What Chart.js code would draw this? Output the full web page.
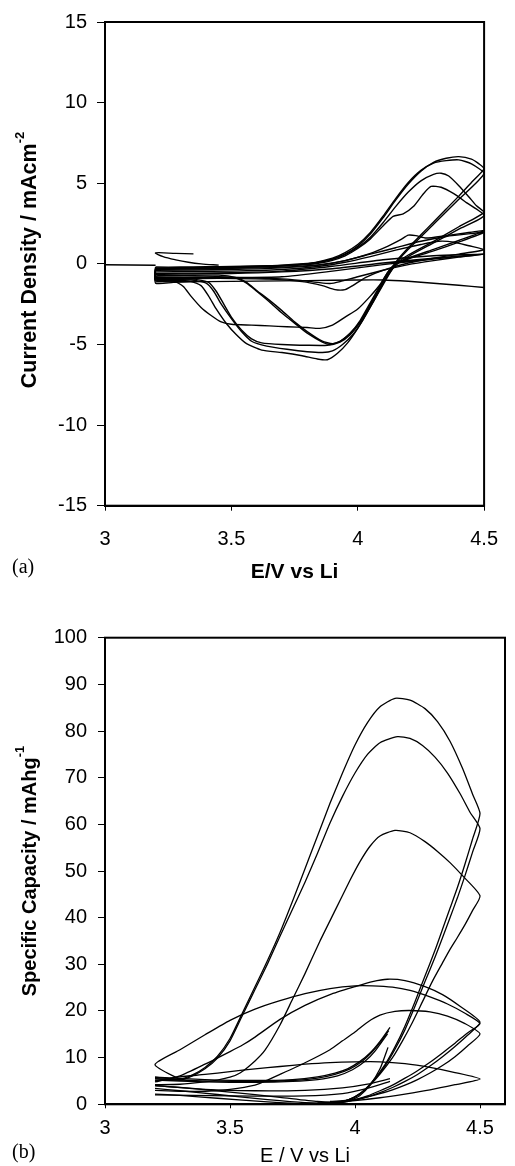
<!DOCTYPE html>
<html><head><meta charset="utf-8">
<script src="https://cdn.jsdelivr.net/npm/chart.js@4.4.1/dist/chart.umd.min.js"></script>
<style>
html,body{margin:0;padding:0;background:#fff;width:515px;height:1166px;overflow:hidden}
.wrap{position:absolute;left:0;width:515px}
#wa{top:0;height:580px}
#wb{top:580px;height:586px}
.lab{position:absolute;font-family:'Liberation Serif','Times New Roman',serif;font-size:20px;line-height:20px;color:#000;white-space:nowrap}
</style></head><body>
<div class="wrap" id="wa"><canvas id="ca" width="515" height="580" style="width:515px;height:580px"></canvas></div>
<div class="wrap" id="wb"><canvas id="cb" width="515" height="586" style="width:515px;height:586px"></canvas></div>
<div class="lab" style="left:12px;top:556px">(a)</div>
<div class="lab" style="left:12px;top:1141px">(b)</div>
<script>
// ---------- Panel (a): cyclic voltammograms, E / V vs Li  vs  current density / mA cm^-2 ----------
const cvTicksX = [3, 3.5, 4, 4.5];
const cvTicksY = [-15, -10, -5, 0, 5, 10, 15];

const cvStartLine = [[3.0,-0.05],[3.2,-0.08]];
const cvStartHook = [[3.35,0.62],[3.28,0.65],[3.2,0.68],[3.23,0.45],[3.28,0.25],[3.33,0.1],[3.38,0.0],[3.45,-0.08]];
const cvFirstScan = [[3.2,-1.12],[3.4,-1.1],[3.6,-1.07],[3.8,-1.04],[4.0,-1.0],[4.1,-1.0],[4.2,-1.08],[4.3,-1.2],[4.4,-1.33],[4.5,-1.47]];

const cyc1Anodic = [[3.2,-0.2],[3.3,-0.2],[3.4,-0.18],[3.5,-0.16],[3.6,-0.13],[3.7,-0.08],[3.8,0.02],[3.85,0.12],[3.9,0.3],[3.95,0.6],[4.0,1.1],[4.05,1.85],[4.1,2.85],[4.15,3.95],[4.2,4.95],[4.25,5.75],[4.3,6.3],[4.35,6.55],[4.4,6.65],[4.45,6.5],[4.48,6.2],[4.5,5.9]];
const cyc1Cathodic = [[4.5,5.9],[4.45,5.05],[4.4,4.2],[4.35,3.4],[4.3,2.6],[4.25,1.8],[4.2,1.0],[4.16,0.3],[4.13,-0.4],[4.1,-1.2],[4.07,-2.1],[4.03,-3.2],[4.0,-4.0],[3.96,-4.9],[3.92,-5.55],[3.88,-5.95],[3.84,-5.9],[3.78,-5.7],[3.7,-5.5],[3.62,-5.35],[3.56,-4.95],[3.52,-4.4],[3.48,-3.7],[3.44,-2.8],[3.41,-2.0],[3.38,-1.35],[3.34,-1.1],[3.27,-1.15],[3.2,-1.2]];

const cyc2Anodic = [[3.2,-0.25],[3.4,-0.22],[3.6,-0.15],[3.7,-0.1],[3.8,0.0],[3.85,0.15],[3.9,0.35],[3.95,0.7],[4.0,1.2],[4.05,1.95],[4.1,2.95],[4.15,4.05],[4.2,5.05],[4.25,5.8],[4.3,6.25],[4.35,6.4],[4.4,6.45],[4.45,6.2],[4.5,5.6]];
const cyc2Cathodic = [[4.5,5.6],[4.4,4.0],[4.3,2.45],[4.2,0.9],[4.16,0.2],[4.13,-0.5],[4.1,-1.3],[4.06,-2.4],[4.02,-3.5],[3.98,-4.4],[3.94,-5.0],[3.9,-5.4],[3.86,-5.5],[3.8,-5.45],[3.72,-5.3],[3.64,-5.1],[3.58,-4.8],[3.54,-4.2],[3.5,-3.4],[3.46,-2.5],[3.43,-1.7],[3.4,-1.2],[3.34,-1.0],[3.2,-1.05]];

const cyc3Anodic = [[3.2,-0.3],[3.4,-0.25],[3.6,-0.18],[3.7,-0.12],[3.8,-0.02],[3.85,0.1],[3.9,0.28],[3.95,0.58],[4.0,1.02],[4.05,1.65],[4.1,2.55],[4.15,3.55],[4.2,4.45],[4.25,5.15],[4.3,5.55],[4.33,5.62],[4.36,5.45],[4.4,4.85],[4.44,4.15],[4.47,3.6],[4.5,3.2]];
const cyc3Cathodic = [[4.5,3.2],[4.4,2.3],[4.3,1.4],[4.2,0.55],[4.15,0.0],[4.12,-0.6],[4.09,-1.4],[4.05,-2.5],[4.01,-3.6],[3.97,-4.4],[3.93,-4.85],[3.88,-5.05],[3.8,-5.05],[3.7,-5.0],[3.62,-4.9],[3.58,-4.65],[3.54,-4.1],[3.5,-3.3],[3.47,-2.5],[3.44,-1.7],[3.41,-1.15],[3.35,-0.95],[3.2,-0.95]];

const cyc4Anodic = [[3.2,-0.35],[3.4,-0.3],[3.6,-0.2],[3.7,-0.14],[3.8,-0.05],[3.85,0.05],[3.9,0.22],[3.95,0.5],[4.0,0.95],[4.05,1.55],[4.1,2.35],[4.14,2.95],[4.18,3.1],[4.22,3.55],[4.26,4.35],[4.29,4.8],[4.33,4.75],[4.38,4.35],[4.43,3.8],[4.5,3.0]];
const cyc4Cathodic = [[4.5,3.0],[4.4,2.15],[4.3,1.3],[4.2,0.45],[4.15,-0.1],[4.12,-0.7],[4.09,-1.5],[4.05,-2.6],[4.01,-3.6],[3.97,-4.3],[3.93,-4.8],[3.89,-5.0],[3.86,-4.85],[3.8,-4.3],[3.76,-3.8],[3.7,-3.05],[3.65,-2.35],[3.6,-1.7],[3.56,-1.2],[3.52,-0.9],[3.45,-0.8],[3.2,-0.8]];

const cyc5Anodic = [[3.2,-0.4],[3.5,-0.35],[3.7,-0.25],[3.85,-0.08],[3.95,0.2],[4.05,0.65],[4.12,1.1],[4.17,1.5],[4.2,1.78],[4.23,1.75],[4.27,1.6],[4.35,1.75],[4.42,1.9],[4.5,2.05]];
const cyc5Cathodic = [[4.5,2.05],[4.4,1.45],[4.3,0.9],[4.2,0.35],[4.15,0.0],[4.12,-0.5],[4.09,-1.3],[4.05,-2.4],[4.01,-3.5],[3.97,-4.3],[3.93,-4.8],[3.9,-4.95],[3.86,-4.8],[3.8,-4.2],[3.75,-3.6],[3.7,-2.9],[3.65,-2.25],[3.6,-1.65],[3.56,-1.15],[3.52,-0.85],[3.45,-0.7],[3.2,-0.7]];

const cyc6Anodic = [[3.2,-0.3],[3.5,-0.28],[3.7,-0.2],[3.85,-0.05],[3.95,0.2],[4.05,0.6],[4.15,1.0],[4.25,1.4],[4.35,1.7],[4.45,1.88],[4.5,1.95]];
const cyc6Cathodic = [[4.5,1.95],[4.4,1.35],[4.3,0.8],[4.2,0.3],[4.15,0.0],[4.12,-0.5],[4.09,-1.25],[4.05,-2.0],[4.0,-2.8],[3.95,-3.3],[3.9,-3.8],[3.85,-4.0],[3.8,-3.95],[3.72,-3.9],[3.65,-3.85],[3.58,-3.8],[3.5,-3.75],[3.46,-3.6],[3.42,-3.2],[3.38,-2.7],[3.34,-2.0],[3.31,-1.4],[3.27,-1.05],[3.2,-1.0]];

const cyc7Anodic = [[3.2,-0.5],[3.5,-0.45],[3.7,-0.35],[3.85,-0.15],[3.95,0.1],[4.05,0.45],[4.15,0.85],[4.25,1.2],[4.32,1.4],[4.38,1.35],[4.44,1.12],[4.5,0.88]];
const cyc7Cathodic = [[4.5,0.88],[4.4,0.6],[4.3,0.35],[4.2,0.05],[4.1,-0.4],[4.03,-0.85],[3.98,-1.35],[3.95,-1.6],[3.91,-1.6],[3.86,-1.35],[3.78,-1.1],[3.65,-0.95],[3.45,-0.9],[3.2,-0.9]];

const cyc8Anodic = [[3.2,-0.6],[3.5,-0.55],[3.7,-0.45],[3.9,-0.15],[4.1,0.25],[4.3,0.5],[4.5,0.6]];
const cyc8Cathodic = [[4.5,0.6],[4.4,0.42],[4.3,0.2],[4.2,-0.05],[4.1,-0.4],[4.0,-0.8],[3.93,-1.1],[3.89,-1.22],[3.84,-1.15],[3.72,-0.95],[3.5,-0.85],[3.2,-0.82]];

const cyc9Anodic = [[3.2,-0.85],[3.5,-0.85],[3.7,-0.8],[3.9,-0.45],[4.1,-0.05],[4.3,0.3],[4.5,0.6]];
const cyc9Cathodic = [[4.5,0.6],[4.3,0.35],[4.1,0.05],[3.9,-0.3],[3.7,-0.5],[3.5,-0.6],[3.2,-0.65]];

// ---------- Panel (b): specific capacity / mAh g^-1 vs E ----------
const capTicksX = [3, 3.5, 4, 4.5];
const capTicksY = [0, 10, 20, 30, 40, 50, 60, 70, 80, 90, 100];

const capLoopA = [[3.2,5.8],[3.3,5.4],[3.35,6.3],[3.4,7.9],[3.45,10.3],[3.5,14.1],[3.55,19.6],[3.6,25.2],[3.65,30.8],[3.7,36.8],[3.75,43.5],[3.8,50.5],[3.85,57.5],[3.9,64.5],[3.95,71],[4.0,77],[4.05,81.8],[4.1,85.2],[4.16,87],[4.22,86.6],[4.28,84.8],[4.33,82],[4.38,77.8],[4.43,72],[4.47,66.5],[4.5,62.3],
  [4.47,56.8],[4.44,51.5],[4.41,46.5],[4.38,42],[4.35,37.5],[4.32,33],[4.28,27.5],[4.24,22],[4.2,16.8],[4.16,12.3],[4.12,8.5],[4.07,4.9],[4.02,2.3],[3.97,0.9],[3.9,0.25],[3.8,0.1],[3.65,0.5],[3.45,1.3],[3.3,1.9],[3.2,2.2]];
const capLoopB = [[3.2,5.5],[3.3,5.2],[3.35,6.1],[3.4,7.6],[3.45,9.9],[3.5,13.6],[3.55,19.1],[3.6,24.6],[3.65,30.1],[3.7,36],[3.75,41.8],[3.8,47.6],[3.85,53.8],[3.9,60.3],[3.95,66],[4.0,71],[4.05,75],[4.1,77.5],[4.17,78.8],[4.22,78.4],[4.27,76.9],[4.32,74.4],[4.37,71],[4.42,66.6],[4.46,62.6],[4.5,59.1],
  [4.47,54],[4.44,49],[4.41,44.3],[4.38,40],[4.35,35.7],[4.32,31.5],[4.28,26.3],[4.24,21],[4.2,16],[4.16,11.8],[4.12,8.2],[4.07,4.8],[4.02,2.2],[3.97,0.9],[3.9,0.3],[3.8,0.35],[3.65,1.0],[3.45,2.1],[3.3,2.9],[3.2,3.4]];
const capLoopC = [[3.2,4.2],[3.3,4.3],[3.4,4.8],[3.45,5.2],[3.5,5.8],[3.54,6.7],[3.6,9.3],[3.64,11.6],[3.7,17],[3.75,22.5],[3.8,28],[3.86,35],[3.92,41.5],[3.98,48],[4.02,52],[4.06,55.3],[4.1,57.5],[4.16,58.7],[4.22,58.2],[4.28,56.3],[4.33,54.2],[4.38,51.8],[4.43,49],[4.5,44.7],
  [4.47,41.5],[4.44,38.5],[4.41,35.8],[4.38,33.2],[4.35,30.3],[4.31,26.4],[4.27,22],[4.23,17.6],[4.19,13.6],[4.15,10],[4.1,6.5],[4.05,3.6],[4.0,1.6],[3.95,0.6],[3.85,0.6],[3.7,1.5],[3.5,2.6],[3.35,3.4],[3.2,4.0]];
const capLoopD = [[3.3,5.3],[3.2,8.5],[3.3,11.7],[3.4,14.9],[3.5,18],[3.6,20.4],[3.7,22.2],[3.8,23.7],[3.9,24.8],[4.0,25.4],[4.07,25.4],[4.15,25.1],[4.22,24.4],[4.3,23],[4.37,21.5],[4.44,19.5],[4.5,17.3],
  [4.45,15.3],[4.4,13.1],[4.35,11],[4.3,9],[4.25,7.2],[4.2,5.6],[4.15,4.1],[4.1,2.9],[4.05,1.8],[4.0,1.0],[3.95,0.5],[3.85,0.3]];
const capLoopE = [[3.2,4.8],[3.3,6.1],[3.4,8.6],[3.5,11.3],[3.55,12.7],[3.6,14.4],[3.7,18.2],[3.8,21.2],[3.9,23.5],[4.0,25.2],[4.07,26.3],[4.13,26.8],[4.2,26.5],[4.28,25.2],[4.35,23.5],[4.42,21],[4.5,17.6],
  [4.45,14.8],[4.4,12.4],[4.35,10.2],[4.3,8.2],[4.25,6.4],[4.2,4.9],[4.15,3.6],[4.1,2.5],[4.05,1.6],[4.0,0.9],[3.9,0.4]];
const capLoopF = [[3.2,3.0],[3.3,2.8],[3.4,2.8],[3.5,3.2],[3.6,4.1],[3.65,5.2],[3.7,6.4],[3.8,8.9],[3.9,11.7],[3.95,13.6],[4.0,15.5],[4.05,17.6],[4.1,19.1],[4.16,19.9],[4.22,20.1],[4.3,19.8],[4.37,18.9],[4.44,17.3],[4.5,15.1],
  [4.45,12.5],[4.4,10.2],[4.35,8.3],[4.3,6.7],[4.25,5.3],[4.2,4.1],[4.15,3.1],[4.1,2.3],[4.05,1.6],[4.0,1.0],[3.9,0.6]];
const capLoopG = [[3.2,5.0],[3.3,5.9],[3.4,6.4],[3.5,7.0],[3.6,7.6],[3.7,8.1],[3.8,8.6],[3.9,8.95],[4.0,9.1],[4.1,9.1],[4.2,8.7],[4.3,7.9],[4.4,6.8],[4.5,5.4],
  [4.4,4.2],[4.3,3.1],[4.2,2.2],[4.1,1.4],[4.0,0.8],[3.9,0.4]];
const capTail1 = [[3.2,5.8],[3.4,5.3],[3.6,5.1],[3.75,5.3],[3.85,5.9],[3.92,6.7],[3.97,7.6],[4.02,9.2],[4.06,11],[4.1,13.5],[4.14,16.5]];
const capTail2 = [[3.2,5.5],[3.4,5.0],[3.6,4.9],[3.75,5.1],[3.85,5.6],[3.92,6.4],[3.98,7.6],[4.03,9.3],[4.07,11.3],[4.1,13.2],[4.135,15.8]];
const capTail3 = [[3.2,5.2],[3.4,4.8],[3.6,4.7],[3.75,4.9],[3.85,5.3],[3.93,6.1],[3.99,7.4],[4.04,9.2],[4.08,11.4],[4.13,15.1]];
const capTail4 = [[3.6,0.05],[3.8,0.05],[3.9,0.2],[3.97,0.6],[4.02,1.9],[4.06,4.1],[4.1,7.6],[4.132,12.2]];
const capTail5 = [[3.2,4.0],[3.4,3.2],[3.6,2.9],[3.8,3.0],[3.95,3.5],[4.05,4.3],[4.14,5.5]];
const capTail6 = [[3.2,2.0],[3.5,1.8],[3.8,1.8],[3.95,2.3],[4.05,3.4],[4.14,4.9]];

// ---------- helpers ----------
const pts = arr => arr.map(p => ({x: p[0], y: p[1]}));
const cycle = (an, ca) => pts(an.concat(ca.slice(1), [an[0]]));
function ds(data, w, t) {
  return {data, showLine: true, borderColor: '#000', backgroundColor: '#000', borderWidth: w,
          pointRadius: 0, pointHoverRadius: 0, tension: t, fill: false};
}
const SANS = "'Liberation Sans', Arial, Helvetica, sans-serif";

function axis(min, max, ticks, tickLen, pad, fitKey, fitVal) {
  return {
    type: 'linear', min, max,
    afterBuildTicks: s => { s.ticks = ticks.map(v => ({value: v})); },
    afterFit: s => { s[fitKey] = fitVal; },
    ticks: {color: '#000', font: {family: SANS, size: 20}, padding: pad, autoSkip: false, maxRotation: 0,
            callback: v => String(v)},
    grid: {display: true, drawOnChartArea: false, drawTicks: true, tickLength: tickLen, color: '#000', lineWidth: 1},
    border: {display: true, color: '#000', width: 2},
    title: {display: false}
  };
}

function decor(o) {
  return {
    id: 'decor',
    afterDraw(chart) {
      const ctx = chart.ctx, a = chart.chartArea;
      ctx.save();
      ctx.strokeStyle = '#000'; ctx.lineWidth = 2;
      ctx.strokeRect(a.left, a.top, a.right - a.left, a.bottom - a.top);
      ctx.fillStyle = '#000';
      ctx.font = o.xFont; ctx.textAlign = 'center'; ctx.textBaseline = 'alphabetic';
      ctx.fillText(o.xTitle, (a.left + a.right) / 2, o.xBase);
      ctx.font = o.yFont; const w1 = ctx.measureText(o.yTitle).width;
      ctx.font = o.supFont; const w2 = ctx.measureText(o.ySup).width;
      const tot = w1 + w2;
      ctx.translate(o.yBase, o.yCenter);
      ctx.rotate(-Math.PI / 2);
      ctx.textAlign = 'left';
      ctx.font = o.yFont; ctx.fillText(o.yTitle, -tot / 2, 0);
      ctx.font = o.supFont; ctx.fillText(o.ySup, -tot / 2 + w1, -o.supRaise);
      ctx.restore();
    }
  };
}

// ---------- chart (a) ----------
const cvCycles = [
  [cyc1Anodic, cyc1Cathodic], [cyc2Anodic, cyc2Cathodic], [cyc3Anodic, cyc3Cathodic],
  [cyc4Anodic, cyc4Cathodic], [cyc5Anodic, cyc5Cathodic], [cyc6Anodic, cyc6Cathodic],
  [cyc7Anodic, cyc7Cathodic], [cyc8Anodic, cyc8Cathodic], [cyc9Anodic, cyc9Cathodic]
];
const dsA = [ds(pts(cvStartLine), 1.5, 0), ds(pts(cvStartHook), 1.3, 0.3), ds(pts(cvFirstScan), 1.4, 0.2)]
  .concat(cvCycles.map(c => ds(cycle(c[0], c[1]), 1.4, 0.2)));

new Chart(document.getElementById('ca'), {
  type: 'scatter',
  data: {datasets: dsA},
  options: {
    responsive: false, animation: false, events: [],
    layout: {padding: {left: 0, top: 18, right: 23, bottom: 0}},
    plugins: {legend: {display: false}, tooltip: {enabled: false}},
    scales: {
      x: axis(3, 4.5, cvTicksX, 5, 17, 'height', 74.3),
      y: axis(-15, 15, cvTicksY, 8, 10, 'width', 105)
    }
  },
  plugins: [decor({xTitle: 'E/V vs Li', xFont: 'bold 21px ' + SANS, xBase: 577.5,
    yTitle: 'Current Density / mAcm', ySup: '-2', yFont: 'bold 21.5px ' + SANS, supFont: 'bold 13px ' + SANS,
    supRaise: 12, yBase: 36, yCenter: 260})]
});

// ---------- chart (b) ----------
const capSeries = [capLoopA, capLoopB, capLoopC, capLoopD, capLoopE, capLoopF, capLoopG,
  capTail1, capTail2, capTail3, capTail4, capTail5, capTail6];
const dsB = capSeries.map(s => ds(pts(s), 1.3, 0.2));

new Chart(document.getElementById('cb'), {
  type: 'scatter',
  data: {datasets: dsB},
  options: {
    responsive: false, animation: false, events: [],
    layout: {padding: {left: 0, top: 57.7, right: 10, bottom: 0}},
    plugins: {legend: {display: false}, tooltip: {enabled: false}},
    scales: {
      x: axis(3, 4.6, capTicksX, 4, 8, 'height', 61.7),
      y: axis(0, 100, capTicksY, 7, 11, 'width', 105)
    }
  },
  plugins: [decor({xTitle: 'E / V vs Li', xFont: '20px ' + SANS, xBase: 581.5,
    yTitle: 'Specific Capacity / mAhg', ySup: '-1', yFont: 'bold 20px ' + SANS, supFont: 'bold 13px ' + SANS,
    supRaise: 12, yBase: 36, yCenter: 291})]
});
</script>
</body></html>
